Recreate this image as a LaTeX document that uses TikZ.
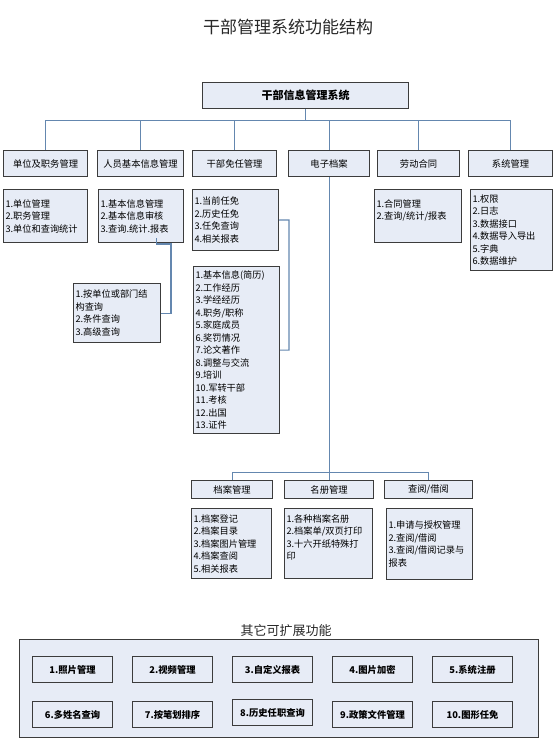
\documentclass[tikz,border=0pt]{standalone}
\usepackage{fontspec}
\setmainfont{Noto Sans CJK SC}
\definecolor{boxfill}{RGB}{231,236,246}
\definecolor{boxline}{RGB}{60,60,60}
\definecolor{conncol}{RGB}{100,135,175}
\definecolor{titlecol}{RGB}{40,40,40}
\tikzset{
  box/.style={draw=boxline, fill=boxfill, line width=1.1pt, anchor=north west, inner sep=0pt},
  hdr/.style={box, minimum height=26pt, font=\fontsize{9.3}{11}\selectfont, align=center},
  hdrsmall/.style={box, minimum height=18pt, font=\fontsize{9.3}{11}\selectfont, align=center},
  lst/.style={box, font=\fontsize{9.2}{12.5}\selectfont, align=left, inner xsep=2pt},
  ext/.style={box, minimum width=80pt, minimum height=26pt, font=\fontsize{9.3}{11}\selectfont\bfseries, align=center},
  conn/.style={draw=conncol, line width=1.1pt}
}
\begin{document}
\begin{tikzpicture}[x=1pt,y=-1pt]
\useasboundingbox (0,0) rectangle (555,741);

% title
\node[font=\fontsize{17}{20}\selectfont, text=titlecol] (title) at (288,27) {干部管理系统功能结构};

% root
\node[box, minimum width=206pt, minimum height=26pt, font=\fontsize{11}{13}\selectfont\bfseries] (root) at (202,82) {干部信息管理系统};

% level 1
\node[hdr, minimum width=84pt] (a) at (3,150) {单位及职务管理};
\node[hdr, minimum width=86pt] (b) at (97,150) {人员基本信息管理};
\node[hdr, minimum width=84pt] (c) at (192,150) {干部免任管理};
\node[hdr, minimum width=81pt] (d) at (288,150) {电子档案};
\node[hdr, minimum width=82pt] (e) at (377,150) {劳动合同};
\node[hdr, minimum width=84pt] (f) at (468,150) {系统管理};

% connectors level 0 -> 1
\draw[conn] (root.south) -- ++(0,11) coordinate (bus);
\foreach \n in {a,b,c,d,e,f} \draw[conn] (bus) -| (\n.north);

% level 2
\node[lst, minimum width=84pt, minimum height=53pt, text width=80pt] (a2) at (3,189)
  {1.单位管理\\2.职务管理\\3.单位和查询统计};
\node[lst, minimum width=85pt, minimum height=53pt, text width=81pt] (b2) at (98,189)
  {1.基本信息管理\\2.基本信息审核\\3.查询.统计.报表};
\node[lst, minimum width=86pt, minimum height=61pt, text width=82pt] (c2) at (192,189)
  {1.当前任免\\2.历史任免\\3.任免查询\\4.相关报表};
\node[lst, minimum width=87pt, minimum height=53pt, text width=83pt] (e2) at (374,189)
  {1.合同管理\\2.查询/统计/报表\\\mbox{}};
\node[lst, minimum width=82pt, minimum height=81pt, text width=78pt] (f2) at (470,189)
  {1.权限\\2.日志\\3.数据接口\\4.数据导入导出\\5.字典\\6.数据维护};

\node[lst, minimum width=87pt, minimum height=59pt, text width=83pt] (q) at (73,283)
  {1.按单位或部门结\\构查询\\2.条件查询\\3.高级查询};
\node[lst, minimum width=86pt, minimum height=167pt, text width=82pt] (jl) at (193,266)
  {1.基本信息(简历)\\2.工作经历\\3.学经经历\\4.职务/职称\\5.家庭成员\\6.奖罚情况\\7.论文著作\\8.调整与交流\\9.培训\\10.军转干部\\11.考核\\12.出国\\13.证件};

% side connectors
\coordinate (k1) at (171,244);
\draw[conn] ([xshift=15pt,yshift=5pt]b2.south) |- (k1) |- (q.east);
\coordinate (k2) at (289,220);
\draw[conn] (c2.east) -- (k2) |- (jl.east);

% level 3
\node[hdrsmall, minimum width=81pt] (g) at (191,480) {档案管理};
\node[hdrsmall, minimum width=89pt] (h) at (284,480) {名册管理};
\node[hdrsmall, minimum width=88pt] (i) at (384,480) {查阅/借阅};

\draw[conn] (d.south) -- ++(0,295) coordinate (bus2);
\foreach \n in {g,h,i} \draw[conn] (bus2) -| (\n.north);

\node[lst, minimum width=80pt, minimum height=70pt, text width=76pt] (g2) at (191,508)
  {1.档案登记\\2.档案目录\\3.档案图片管理\\4.档案查阅\\5.相关报表};
\node[lst, minimum width=88pt, minimum height=70pt, text width=84pt] (h2) at (284,508)
  {1.各种档案名册\\2.档案单/双页打印\\3.十六开纸特殊打\\印\\\mbox{}};
\node[lst, minimum width=86pt, minimum height=71pt, text width=82pt] (i2) at (386,508)
  {1.申请与授权管理\\2.查阅/借阅\\3.查阅/借阅记录与\\报表};

% extension area
\node[font=\fontsize{13}{15}\selectfont, text=titlecol] (exttitle) at (286,631) {其它可扩展功能};
\node[box, minimum width=519pt, minimum height=98pt] (outer) at (19,639) {};

\node[ext] (x1) at (32,656) {1.照片管理};
\node[ext] (x2) at (132,656) {2.视频管理};
\node[ext] (x3) at (232,656) {3.自定义报表};
\node[ext] (x4) at (332,656) {4.图片加密};
\node[ext] (x5) at (432,656) {5.系统注册};
\node[ext] (x6) at (32,701) {6.多姓名查询};
\node[ext] (x7) at (132,701) {7.按笔划排序};
\node[ext] (x8) at (232,699) {8.历史任职查询};
\node[ext] (x9) at (332,701) {9.政策文件管理};
\node[ext] (x10) at (432,701) {10.图形任免};
\end{tikzpicture}
\end{document}
